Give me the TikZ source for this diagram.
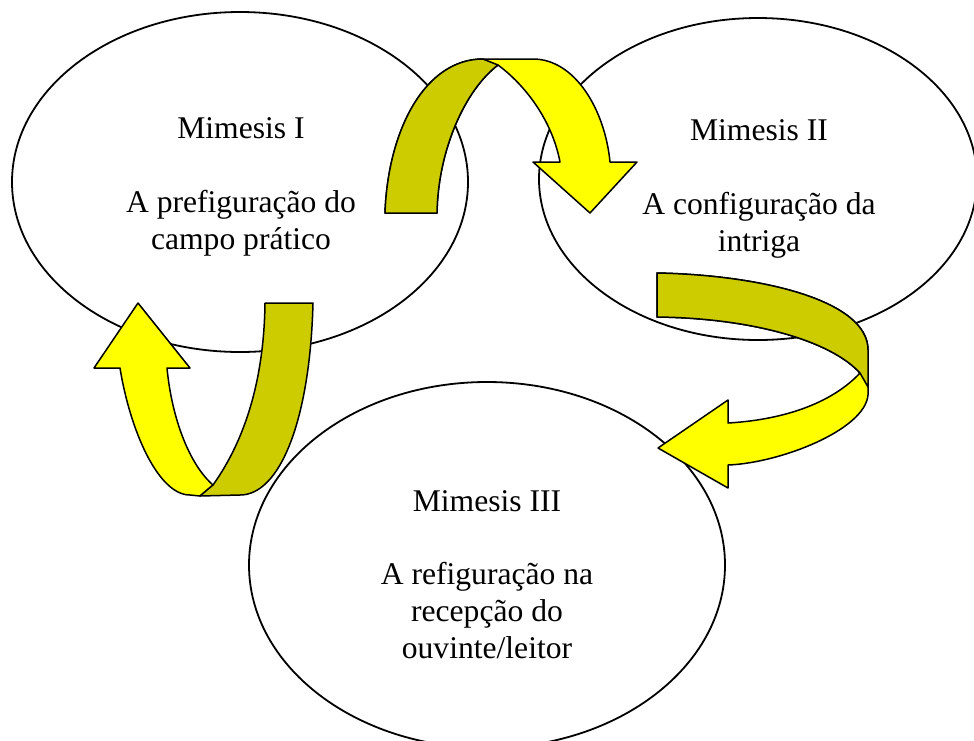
\documentclass[tikz,border=0pt]{standalone}
\usepackage{fontspec}
\setmainfont{Liberation Serif}
\usetikzlibrary{shapes.geometric}
\definecolor{arrowyellow}{RGB}{255,255,0}
\definecolor{arrowolive}{RGB}{204,204,0}
\begin{document}
\begin{tikzpicture}[x=1pt,y=-1pt,
  mimesis/.style={ellipse,draw=black,line width=1.8pt,fill=white,inner sep=0pt},
  label/.style={align=center,anchor=base,inner sep=0pt,font=\fontsize{31.6}{36.7}\selectfont},
  front/.style={fill=arrowyellow,draw=black,line width=1.5pt,line join=round},
  back/.style={fill=arrowolive,draw=black,line width=1.5pt,line join=round}]
\useasboundingbox (0,0) rectangle (974,740);
\fill[white] (0,0) rectangle (974,740);

% ellipses
\node[mimesis,minimum width=456pt,minimum height=340pt] (m1) at (240,182) {};
\node[mimesis,minimum width=438pt,minimum height=322pt] (m2) at (758,179) {};
\node[mimesis,minimum width=476pt,minimum height=366pt] (m3) at (487,565) {};

% texts (base anchor = baseline of last line)
\node[label] (t1) at (241,249) {Mimesis I\\[36.7pt]A prefiguração do\\campo prático};
\node[label] (t2) at (759,251) {Mimesis II\\[36.7pt]A configuração da\\intriga};
\node[label] (t3) at (487,658) {Mimesis III\\[36.7pt]A refiguração na\\recepção do\\ouvinte/leitor};

% arrow 1: Mimesis I -> Mimesis II (over the top)
\draw[front] (385,213) .. controls (388,130) and (425,59) .. (483,59) -- (533,59)
  .. controls (575,59) and (605,110) .. (610,162) -- (637,162) -- (590,213) -- (533,162) -- (560,162)
  .. controls (552,120) and (525,85) .. (498,65)
  .. controls (465,90) and (438,150) .. (437,213) -- cycle;
\draw[back] (385,213) .. controls (388,130) and (425,59) .. (483,59) -- (498,65)
  .. controls (465,90) and (438,150) .. (437,213) -- cycle;

% arrow 2: Mimesis II -> Mimesis III (right side)
\draw[front] (657,273) .. controls (760,275) and (868,300) .. (868,350) -- (868,395)
  .. controls (865,430) and (780,463) .. (728,465) -- (728,488) -- (658,448) -- (728,400) -- (728,423)
  .. controls (780,420) and (830,405) .. (860,373)
  .. controls (830,340) and (750,318) .. (657,317) -- cycle;
\draw[back] (657,273) .. controls (760,275) and (868,300) .. (868,350) -- (868,387) -- (860,373)
  .. controls (830,340) and (750,318) .. (657,317) -- cycle;

% arrow 3: Mimesis III -> Mimesis I (left side)
\draw[front] (200,496) -- (190,495) .. controls (158,495) and (130,430) .. (120,368)
  -- (94,368) -- (138,303) -- (190,368) -- (167,368)
  .. controls (172,420) and (190,465) .. (213,485) -- cycle;
\draw[back] (265,303) -- (313,303) .. controls (310,420) and (280,495) .. (240,495) -- (200,496) -- (213,485)
  .. controls (245,440) and (264,380) .. (265,303) -- cycle;
\end{tikzpicture}
\end{document}
